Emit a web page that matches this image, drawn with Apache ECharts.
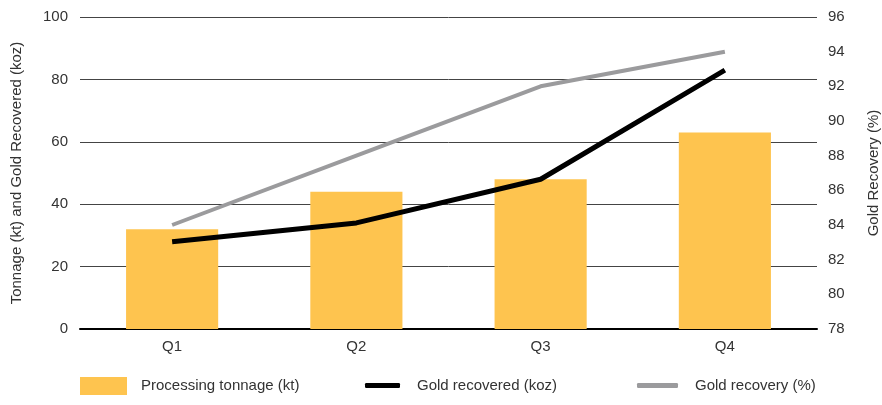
<!DOCTYPE html>
<html>
<head>
    <meta charset="utf-8">
    <title>Gold production</title>
    <script src="https://cdn.jsdelivr.net/npm/echarts@6/dist/echarts.min.js"></script>
    <style>
        html, body { margin: 0; padding: 0; background: #fff; }
        #chart { width: 882px; height: 405px; }
    </style>
</head>
<body>
<div id="chart"></div>
<script type="text/javascript">
    // data
    var quarters = ['Q1', 'Q2', 'Q3', 'Q4'];
    var tonnage = [32, 44, 48, 63];          // kt
    var goldRecovered = [28, 34, 48, 83];    // koz
    var goldRecovery = [84, 88, 92, 94];     // %

    var font = 'Liberation Sans, Arial, sans-serif';
    var txt = '#333';

    var chart = echarts.init(document.getElementById('chart'));
    chart.setOption({
        animation: false,
        textStyle: { fontFamily: font },
        grid: { left: 80, right: 65, top: 17, bottom: 76, outerBoundsMode: 'none' },
        legend: [
            {
                left: 80, top: 377, padding: 0, itemWidth: 47, itemHeight: 18, itemGap: 0,
                data: [{ name: 'Processing tonnage (kt)', icon: 'rect' }],
                textStyle: { fontSize: 15, color: txt, padding: [0, 0, 0, 9] }
            },
            {
                left: 365, top: 378, padding: 0, itemWidth: 35, itemHeight: 5,
                data: [{ name: 'Gold recovered (koz)', icon: 'roundRect' }],
                textStyle: { fontSize: 15, color: txt, padding: [0, 0, 0, 12] }
            },
            {
                left: 637, top: 378, padding: 0, itemWidth: 41, itemHeight: 5,
                data: [{ name: 'Gold recovery (%)', icon: 'roundRect' }],
                textStyle: { fontSize: 15, color: txt, padding: [0, 0, 0, 12] }
            }
        ],
        xAxis: {
            type: 'category',
            data: quarters,
            axisLine: { lineStyle: { color: '#000', width: 2 } },
            axisTick: { show: false },
            axisLabel: { color: txt, fontSize: 15, margin: 10 }
        },
        yAxis: [
            {
                type: 'value', min: 0, max: 100, interval: 20,
                name: 'Tonnage (kt) and Gold Recovered (koz)',
                nameLocation: 'middle', nameGap: 56,
                nameTextStyle: { color: txt, fontSize: 15 },
                axisLine: { show: false },
                axisTick: { show: false },
                axisLabel: { color: txt, fontSize: 15, margin: 12 },
                splitLine: { lineStyle: { color: '#444', width: 1 } }
            },
            {
                type: 'value', min: 78, max: 96, interval: 2,
                name: 'Gold Recovery (%)',
                nameLocation: 'middle', nameGap: 49,
                nameTextStyle: { color: txt, fontSize: 15 },
                axisLine: { show: false },
                axisTick: { show: false },
                axisLabel: { color: txt, fontSize: 15, margin: 11 },
                splitLine: { show: false }
            }
        ],
        series: [
            {
                name: 'Processing tonnage (kt)',
                type: 'bar',
                data: tonnage,
                barWidth: '50%',
                itemStyle: { color: '#FEC44F' }
            },
            {
                name: 'Gold recovery (%)',
                type: 'line',
                yAxisIndex: 1,
                data: goldRecovery,
                symbol: 'none',
                itemStyle: { color: '#9b9b9d' },
                lineStyle: { color: '#9b9b9d', width: 4 }
            },
            {
                name: 'Gold recovered (koz)',
                type: 'line',
                data: goldRecovered,
                symbol: 'none',
                itemStyle: { color: '#000' },
                lineStyle: { color: '#000', width: 5 }
            }
        ]
    });
</script>
</body>
</html>
